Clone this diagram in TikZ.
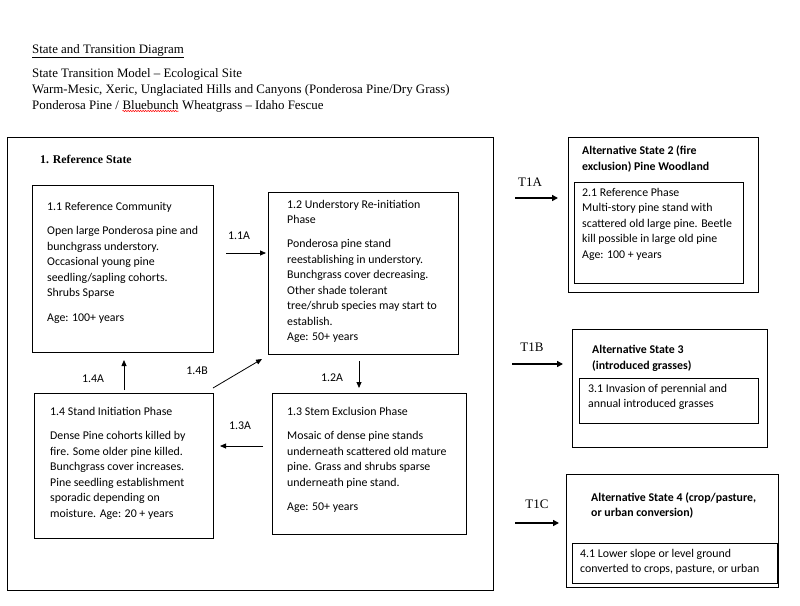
\documentclass[tikz,border=0pt]{standalone}
\usepackage{fontspec}
\setmainfont{Liberation Serif}
\newfontfamily\calibri{Carlito}
\usetikzlibrary{positioning,arrows.meta,decorations.pathmorphing}

\begin{document}
\begin{tikzpicture}[x=1pt,y=-1pt,
    box/.style={draw,line width=1pt,inner sep=0pt,outer sep=0pt,anchor=north west},
    txt/.style={inner sep=0pt,anchor=north west,align=left,font=\calibri\fontsize{11.85}{15.5}\selectfont},
    ttl/.style={txt,font=\calibri\bfseries\fontsize{11.85}{15.5}\selectfont},
    head/.style={inner sep=0pt,anchor=base west,font=\fontsize{12.9}{16}\selectfont},
    lbl/.style={inner sep=0pt,font=\calibri\fontsize{11.85}{14}\selectfont},
    tlbl/.style={inner sep=0pt,font=\fontsize{13}{16}\selectfont},
    arr/.style={-{Triangle[length=6pt,width=5pt]},line width=0.8pt},
    tarr/.style={-{Triangle[length=6pt,width=6pt]},line width=2.5pt}]
        \useasboundingbox (0,0) rectangle (800,605);
        % header
        \node[head] (title) at (32,53) {\underline{State and Transition Diagram}};
        \node[head] (model) at (32,77) {State Transition Model – Ecological Site};
        \node[head] (site) at (32,93) {Warm-Mesic, Xeric, Unglaciated Hills and Canyons (Ponderosa Pine/Dry Grass)};
        \node[head] (veg) at (32,109) {Ponderosa Pine /};
        \node[head] (veg2) at ([xshift=3.25pt]veg.base east) {Bluebunch};
        \node[head] (veg3) at ([xshift=3.25pt]veg2.base east) {Wheatgrass – Idaho Fescue};
        \draw[red,line width=0.5pt,decorate,decoration={snake,amplitude=0.7pt,segment length=2.5pt}]
            ([yshift=-2pt]veg2.base west) -- ([yshift=-2pt]veg2.base east);
        % reference state
        \node[box,minimum width=486pt,minimum height=453pt] (ref) at (7,137) {};
        \node[inner sep=0pt,anchor=north west,font=\bfseries\fontsize{11.8}{14}\selectfont,below right=18pt and 33pt of ref.north west] (refttl) {1. Reference State};
        \node[box,minimum width=181pt,minimum height=167pt] (b11) at (32,185) {};
        \node[txt,below right=17pt and 15pt of b11.north west] (t11) {1.1 Reference Community\\[9pt]
            Open large Ponderosa pine and\\ bunchgrass understory.\\ Occasional young pine\\
            seedling/sapling cohorts.\\ Shrubs Sparse\\[9pt] Age: 100+ years};
        \node[box,minimum width=190pt,minimum height=162pt] (b12) at (268,192) {};
        \node[txt,below right=8pt and 19pt of b12.north west] (t12) {1.2 Understory Re-initiation\\ Phase\\[8.5pt]
            Ponderosa pine stand\\ reestablishing in understory.\\ Bunchgrass cover decreasing.\\
            Other shade tolerant\\ tree/shrub species may start to\\ establish.\\ Age: 50+ years};
        \node[box,minimum width=194pt,minimum height=141pt] (b13) at (272,393) {};
        \node[txt,below right=14pt and 15pt of b13.north west] (t13) {1.3 Stem Exclusion Phase\\[9pt]
            Mosaic of dense pine stands\\ underneath scattered old mature\\ pine. Grass and shrubs sparse\\
            underneath pine stand.\\[9pt] Age: 50+ years};
        \node[box,minimum width=179pt,minimum height=145pt] (b14) at (34,393) {};
        \node[txt,below right=14pt and 16pt of b14.north west] (t14) {1.4 Stand Initiation Phase\\[9pt]
            Dense Pine cohorts killed by\\ fire. Some older pine killed.\\ Bunchgrass cover increases.\\
            Pine seedling establishment\\ sporadic depending on\\ moisture. Age: 20 + years};
        % pathways
        \coordinate (p11s) at (226,253);
        \coordinate (p11e) at (266,253);
        \coordinate (p12s) at (359,361);
        \coordinate (p12e) at (359,388);
        \coordinate (p13s) at (263,446);
        \coordinate (p13e) at (220,446);
        \coordinate (p14as) at (124,390);
        \coordinate (p14ae) at (124,360);
        \coordinate (p14bs) at (213,388);
        \coordinate (p14be) at (262,359);
        \draw[arr] (p11s) -- (p11e);
        \draw[arr] (p12s) -- (p12e);
        \draw[arr] (p13s) -- (p13e);
        \draw[arr] (p14as) -- (p14ae);
        \draw[arr] (p14bs) -- (p14be);
        \node[lbl] (l11) at (239,236) {1.1A};
        \node[lbl] (l12) at (332,378) {1.2A};
        \node[lbl] (l13) at (240,426) {1.3A};
        \node[lbl] (l14a) at (93,379) {1.4A};
        \node[lbl] (l14b) at (197,371) {1.4B};
        % alternative states
        \node[box,minimum width=190pt,minimum height=155pt] (alt2) at (568,137) {};
        \node[ttl,below right=9pt and 14pt of alt2.north west] (a2ttl) {Alternative State 2 (fire\\ exclusion) Pine Woodland};
        \node[box,minimum width=169pt,minimum height=101pt] (ph21) at (574,182) {};
        \node[txt,below right=6pt and 8pt of ph21.north west] (t21) {2.1 Reference Phase\\ Multi-story pine stand with\\
            scattered old large pine. Beetle\\ kill possible in large old pine\\ Age: 100 + years};
        \node[box,minimum width=195pt,minimum height=118pt] (alt3) at (572,329) {};
        \node[ttl,below right=16pt and 20pt of alt3.north west] (a3ttl) {Alternative State 3\\ (introduced grasses)};
        \node[box,minimum width=179pt,minimum height=45pt] (ph31) at (579,378) {};
        \node[txt,below right=6pt and 9pt of ph31.north west] (t31) {3.1 Invasion of perennial and\\ annual introduced grasses};
        \node[box,minimum width=212pt,minimum height=113pt] (alt4) at (566,474) {};
        \node[ttl,below right=18pt and 25pt of alt4.north west] (a4ttl) {Alternative State 4 (crop/pasture,\\ or urban conversion)};
        \node[box,minimum width=205pt,minimum height=40pt] (ph41) at (572,543) {};
        \node[txt,below right=6pt and 8pt of ph41.north west] (t41) {4.1 Lower slope or level ground\\ converted to crops, pasture, or urban};
        % transitions
        \coordinate (t1as) at (515,198);
        \coordinate (t1ae) at (558,198);
        \coordinate (t1bs) at (512,364);
        \coordinate (t1be) at (563,364);
        \coordinate (t1cs) at (515,523);
        \coordinate (t1ce) at (559,523);
        \draw[tarr] (t1as) -- (t1ae);
        \draw[tarr] (t1bs) -- (t1be);
        \draw[tarr] (t1cs) -- (t1ce);
        \node[tlbl] (lt1a) at (530,182) {T1A};
        \node[tlbl] (lt1b) at (532,347) {T1B};
        \node[tlbl] (lt1c) at (537,504) {T1C};
\end{tikzpicture}
\end{document}
